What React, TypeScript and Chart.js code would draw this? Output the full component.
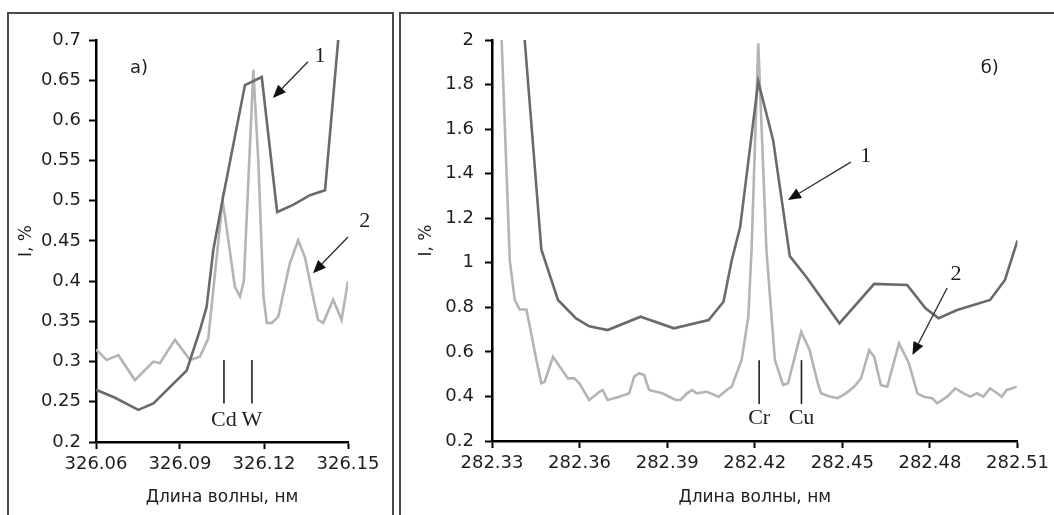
import { useEffect, useRef } from "react"
import { Chart, registerables, type Plugin } from "chart.js"

Chart.register(...registerables)

// ---- panel a) : 326.06 – 326.15 nm ----
const LEFT_X_TICKS = [326.06, 326.09, 326.12, 326.15]
const LEFT_Y_TICKS = [0.2, 0.25, 0.3, 0.35, 0.4, 0.45, 0.5, 0.55, 0.6, 0.65, 0.7]

const LEFT_WL_1 = [
  326.06, 326.0668, 326.0751, 326.0805, 326.0924, 326.0971, 326.0995, 326.1019, 326.1054, 326.1132,
  326.1192, 326.1247, 326.1304, 326.1364, 326.1418, 326.1465,
]
const LEFT_I_1 = [
  0.265, 0.255, 0.24, 0.248, 0.289, 0.339, 0.368, 0.439, 0.505, 0.644, 0.654, 0.486, 0.495, 0.507, 0.513,
  0.7,
]

const LEFT_WL_2 = [
  326.06, 326.0638, 326.068, 326.0739, 326.0805, 326.0828, 326.0882, 326.0936, 326.0971, 326.1001, 326.1028,
  326.1052, 326.1061, 326.1096, 326.1114, 326.1128, 326.1162, 326.118, 326.1198, 326.121, 326.1228, 326.1251,
  326.1292, 326.1322, 326.1346, 326.1375, 326.1393, 326.1411, 326.1447, 326.1477, 326.15,
]
const LEFT_I_2 = [
  0.315, 0.302, 0.308, 0.277, 0.3, 0.298, 0.327, 0.302, 0.306, 0.329, 0.42, 0.5, 0.48, 0.393, 0.381, 0.4,
  0.663, 0.547, 0.381, 0.348, 0.348, 0.356, 0.422, 0.451, 0.43, 0.381, 0.352, 0.348, 0.377, 0.352, 0.4,
]

// ---- panel б) : 282.33 – 282.51 nm ----
const RIGHT_X_TICKS = [282.33, 282.36, 282.39, 282.42, 282.45, 282.48, 282.51]
const RIGHT_Y_TICKS = [0.2, 0.4, 0.6, 0.8, 1, 1.2, 1.4, 1.6, 1.8, 2]

const RIGHT_WL_1 = [
  282.3412, 282.3469, 282.3526, 282.3588, 282.3633, 282.3696, 282.3809, 282.3923, 282.4042, 282.4093,
  282.4121, 282.415, 282.4212, 282.4263, 282.432, 282.4376, 282.449, 282.4609, 282.4722, 282.4785, 282.483,
  282.4893, 282.5006, 282.5057, 282.51,
]
const RIGHT_I_1 = [
  2.0, 1.06, 0.833, 0.75, 0.715, 0.698, 0.758, 0.706, 0.743, 0.825, 1.01, 1.16, 1.813, 1.55, 1.03, 0.937,
  0.728, 0.905, 0.9, 0.796, 0.751, 0.788, 0.833, 0.923, 1.1,
]

const RIGHT_WL_2 = [
  282.3333, 282.3361, 282.3378, 282.3395, 282.3418, 282.3452, 282.3469, 282.348, 282.3509, 282.356, 282.3582,
  282.3599, 282.3633, 282.3668, 282.3679, 282.3696, 282.3736, 282.377, 282.3787, 282.3804, 282.3821, 282.3838,
  282.3883, 282.3929, 282.3946, 282.3968, 282.3985, 282.4001, 282.4036, 282.4076, 282.4104, 282.4121, 282.4155,
  282.4178, 282.4189, 282.4212, 282.424, 282.4269, 282.4297, 282.4314, 282.4359, 282.4388, 282.4416, 282.4427,
  282.4456, 282.4484, 282.4512, 282.4541, 282.4564, 282.4592, 282.4609, 282.4632, 282.4654, 282.4694, 282.4728,
  282.4757, 282.4779, 282.4808, 282.4825, 282.4859, 282.4887, 282.4915, 282.4938, 282.4961, 282.4983, 282.5006,
  282.5023, 282.5046, 282.5063, 282.508, 282.5097,
]
const RIGHT_I_2 = [
  2.0, 1.01, 0.833, 0.79, 0.79, 0.564, 0.459, 0.465, 0.578, 0.481, 0.481, 0.459, 0.384, 0.421, 0.429, 0.384,
  0.399, 0.414, 0.489, 0.504, 0.496, 0.429, 0.414, 0.384, 0.384, 0.414, 0.429, 0.414, 0.421, 0.399, 0.429,
  0.444, 0.564, 0.758, 1.057, 1.985, 1.057, 0.564, 0.451, 0.459, 0.69, 0.608, 0.459, 0.414, 0.4, 0.392, 0.414,
  0.444, 0.481, 0.608, 0.578, 0.451, 0.444, 0.638, 0.549, 0.414, 0.399, 0.392, 0.369, 0.399, 0.436, 0.414,
  0.399, 0.414, 0.399, 0.436, 0.421, 0.399, 0.429, 0.436, 0.444,
]

const DARK = "#6a6a6a"
const LIGHT = "#b4b4b4"
const INK = "#1e1e1e"
const SANS = "'DejaVu Sans', sans-serif"
const SERIF = "'Liberation Serif', 'Times New Roman', serif"

type LineMark = { text: string; x: number; y0: number; y1: number; ty: number }
type ArrowMark = { text: string; tx: number; ty: number; x0: number; y0: number; x1: number; y1: number }
type Marks = { tag: { text: string; x: number; y: number }; lines: LineMark[]; arrows: ArrowMark[] }

const LEFT_MARKS: Marks = {
  tag: { text: "a)", x: 326.0754, y: 0.665 },
  lines: [
    { text: "Cd", x: 326.1057, y0: 0.302, y1: 0.248, ty: 0.227 },
    { text: "W", x: 326.1157, y0: 0.302, y1: 0.248, ty: 0.227 },
  ],
  arrows: [
    { text: "1", tx: 326.14, ty: 0.68, x0: 326.1357, y0: 0.673, x1: 326.1232, y1: 0.628 },
    { text: "2", tx: 326.156, ty: 0.475, x0: 326.15, y0: 0.455, x1: 326.1375, y1: 0.41 },
  ],
}

const RIGHT_MARKS: Marks = {
  tag: { text: "б)", x: 282.5005, y: 1.874 },
  lines: [
    { text: "Cr", x: 282.4215, y0: 0.563, y1: 0.366, ty: 0.303 },
    { text: "Cu", x: 282.436, y0: 0.563, y1: 0.366, ty: 0.303 },
  ],
  arrows: [
    { text: "1", tx: 282.458, ty: 1.479, x0: 282.4529, y0: 1.452, x1: 282.4314, y1: 1.282 },
    { text: "2", tx: 282.4889, ty: 0.95, x0: 282.4859, y0: 0.887, x1: 282.474, y1: 0.586 },
  ],
}

function marksPlugin(marks: Marks): Plugin<"line"> {
  return {
    id: "marks",
    afterDatasetsDraw(chart) {
      const { ctx } = chart
      const xs = chart.scales.x
      const ys = chart.scales.y
      const px = (v: number) => xs.getPixelForValue(v)
      const py = (v: number) => ys.getPixelForValue(v)
      ctx.save()
      ctx.textAlign = "center"
      ctx.textBaseline = "middle"
      ctx.fillStyle = INK
      ctx.font = `18px ${SANS}`
      ctx.fillText(marks.tag.text, px(marks.tag.x), py(marks.tag.y))

      ctx.font = `22px ${SERIF}`
      ctx.strokeStyle = INK
      ctx.lineWidth = 1.6
      for (const m of marks.lines) {
        ctx.beginPath()
        ctx.moveTo(px(m.x), py(m.y0))
        ctx.lineTo(px(m.x), py(m.y1))
        ctx.stroke()
        ctx.fillText(m.text, px(m.x), py(m.ty))
      }

      ctx.lineWidth = 1.4
      ctx.strokeStyle = "#333"
      for (const a of marks.arrows) {
        const x0 = px(a.x0)
        const y0 = py(a.y0)
        const x1 = px(a.x1)
        const y1 = py(a.y1)
        const ang = Math.atan2(y1 - y0, x1 - x0)
        const len = 13
        const half = 5.5
        const bx = x1 - len * Math.cos(ang)
        const by = y1 - len * Math.sin(ang)
        ctx.beginPath()
        ctx.moveTo(x0, y0)
        ctx.lineTo(bx, by)
        ctx.stroke()
        ctx.beginPath()
        ctx.moveTo(x1, y1)
        ctx.lineTo(bx + half * Math.sin(ang), by - half * Math.cos(ang))
        ctx.lineTo(bx - half * Math.sin(ang), by + half * Math.cos(ang))
        ctx.closePath()
        ctx.fillStyle = "#111"
        ctx.fill()
        ctx.fillStyle = INK
        ctx.fillText(a.text, px(a.tx), py(a.ty))
      }
      ctx.restore()
    },
  }
}

type PanelProps = {
  left: number
  top: number
  width: number
  height: number
  wl1: number[]
  i1: number[]
  wl2: number[]
  i2: number[]
  xTicks: number[]
  yTicks: number[]
  yDigits: number
  yAxisWidth: number
  xAxisHeight: number
  padTop: number
  padRight: number
  yTickPad: number
  yTitlePad: number
  marks: Marks
}

function SpectrumChart(p: PanelProps) {
  const chartRef = useRef<HTMLCanvasElement>(null)
  const chartInstance = useRef<Chart | null>(null)

  useEffect(() => {
    if (!chartRef.current) return
    const ctx = chartRef.current.getContext("2d")
    if (!ctx) return
    if (chartInstance.current) chartInstance.current.destroy()

    const axisGrid = {
      display: true,
      drawOnChartArea: false,
      drawTicks: true,
      tickLength: 7,
      tickColor: "#000",
      tickWidth: 2,
    }
    const axisBorder = { display: true, color: "#000", width: 2.5 }
    const tickFont = { family: SANS, size: 18 }

    chartInstance.current = new Chart(ctx, {
      type: "line",
      data: {
        datasets: [
          {
            label: "1",
            data: p.wl1.map((x, i) => ({ x, y: p.i1[i] })),
            borderColor: DARK,
            borderWidth: 2.6,
            pointRadius: 0,
            tension: 0,
            fill: false,
          },
          {
            label: "2",
            data: p.wl2.map((x, i) => ({ x, y: p.i2[i] })),
            borderColor: LIGHT,
            borderWidth: 2.6,
            pointRadius: 0,
            tension: 0,
            fill: false,
          },
        ],
      },
      options: {
        responsive: false,
        animation: false,
        layout: { padding: { top: p.padTop, right: p.padRight, left: 0, bottom: 0 } },
        plugins: { legend: { display: false }, tooltip: { enabled: false } },
        scales: {
          x: {
            type: "linear",
            min: p.xTicks[0],
            max: p.xTicks[p.xTicks.length - 1],
            afterBuildTicks: (s) => {
              s.ticks = p.xTicks.map((value) => ({ value }))
            },
            afterFit: (s) => {
              s.height = p.xAxisHeight
            },
            ticks: {
              autoSkip: false,
              maxRotation: 0,
              padding: 5,
              color: INK,
              font: tickFont,
              callback: (v) => Number(v).toFixed(2),
            },
            grid: axisGrid,
            border: axisBorder,
            title: {
              display: true,
              text: "Длина волны, нм",
              color: INK,
              font: { family: SANS, size: 17 },
              padding: { top: 0, bottom: 7 },
            },
          },
          y: {
            type: "linear",
            min: p.yTicks[0],
            max: p.yTicks[p.yTicks.length - 1],
            afterBuildTicks: (s) => {
              s.ticks = p.yTicks.map((value) => ({ value }))
            },
            afterFit: (s) => {
              s.width = p.yAxisWidth
            },
            ticks: {
              autoSkip: false,
              padding: p.yTickPad,
              color: INK,
              font: tickFont,
              callback: (v) => String(Number(Number(v).toFixed(p.yDigits))),
            },
            grid: axisGrid,
            border: axisBorder,
            title: {
              display: true,
              text: "I, %",
              color: INK,
              font: { family: SANS, size: 17 },
              padding: { top: p.yTitlePad, bottom: 0 },
            },
          },
        },
      },
      plugins: [marksPlugin(p.marks)],
    })

    return () => {
      if (chartInstance.current) {
        chartInstance.current.destroy()
        chartInstance.current = null
      }
    }
  }, [])

  return (
    <canvas
      ref={chartRef}
      width={p.width}
      height={p.height}
      style={{ position: "absolute", left: p.left, top: p.top, width: p.width, height: p.height }}
    />
  )
}

export default function App() {
  return (
    <div
      style={{
        position: "absolute",
        left: 0,
        top: 0,
        width: 1054,
        height: 515,
        overflow: "hidden",
        background: "#fff",
      }}
    >
      <div
        style={{
          position: "absolute",
          left: 7,
          top: 12,
          width: 387,
          height: 520,
          boxSizing: "border-box",
          border: "2px solid #4a4a4a",
          borderBottom: "none",
        }}
      />
      <div
        style={{
          position: "absolute",
          left: 399,
          top: 12,
          width: 700,
          height: 520,
          boxSizing: "border-box",
          borderTop: "2px solid #4a4a4a",
          borderLeft: "2px solid #4a4a4a",
        }}
      />
      <SpectrumChart
        left={9}
        top={14}
        width={382}
        height={501}
        wl1={LEFT_WL_1}
        i1={LEFT_I_1}
        wl2={LEFT_WL_2}
        i2={LEFT_I_2}
        xTicks={LEFT_X_TICKS}
        yTicks={LEFT_Y_TICKS}
        yDigits={2}
        yAxisWidth={87}
        xAxisHeight={73}
        padTop={26}
        padRight={43}
        yTickPad={8}
        yTitlePad={7}
        marks={LEFT_MARKS}
      />
      <SpectrumChart
        left={401}
        top={14}
        width={653}
        height={501}
        wl1={RIGHT_WL_1}
        i1={RIGHT_I_1}
        wl2={RIGHT_WL_2}
        i2={RIGHT_I_2}
        xTicks={RIGHT_X_TICKS}
        yTicks={RIGHT_Y_TICKS}
        yDigits={1}
        yAxisWidth={91}
        xAxisHeight={74}
        padTop={26}
        padRight={33}
        yTickPad={11}
        yTitlePad={15}
        marks={RIGHT_MARKS}
      />
    </div>
  )
}
